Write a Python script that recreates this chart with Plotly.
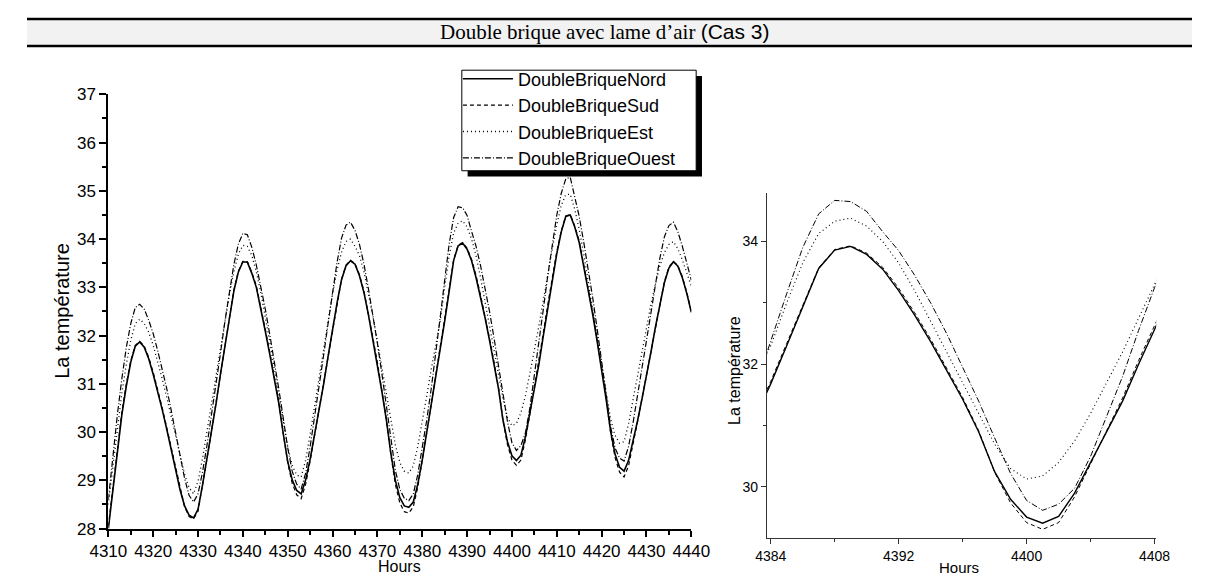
import plotly.graph_objects as go

# ---------------- data (hourly temperatures) ----------------
hours = list(range(4310, 4441))

nord = [
    28.00, 28.80, 29.60, 30.35, 30.95, 31.45, 31.78, 31.87, 31.76, 31.52,
    31.20, 30.85, 30.47, 30.07, 29.65, 29.22, 28.80, 28.47, 28.28, 28.22,
    28.40, 28.90, 29.45, 30.00, 30.58, 31.20, 31.80, 32.38, 32.93, 33.32,
    33.53, 33.52, 33.29, 33.00, 32.57, 32.09, 31.61, 31.13, 30.60, 29.97,
    29.39, 29.01, 28.79, 28.72, 29.01, 29.44, 29.95, 30.46, 30.99, 31.57,
    32.15, 32.68, 33.16, 33.45, 33.55, 33.48, 33.24, 32.89, 32.43, 31.91,
    31.40, 30.84, 30.25, 29.56, 29.00, 28.64, 28.47, 28.44, 28.55, 28.92,
    29.42, 29.98, 30.55, 31.12, 31.68, 32.30, 32.92, 33.56, 33.86, 33.92,
    33.79, 33.55, 33.20, 32.80, 32.37, 31.90, 31.43, 30.90, 30.25, 29.80,
    29.51, 29.41, 29.52, 29.90, 30.40, 30.90, 31.40, 32.00, 32.58, 33.15,
    33.70, 34.15, 34.47, 34.50, 34.25, 33.93, 33.45, 32.97, 32.44, 31.88,
    31.32, 30.68, 30.02, 29.54, 29.27, 29.19, 29.41, 29.80, 30.23, 30.69,
    31.16, 31.66, 32.18, 32.66, 33.10, 33.40, 33.53, 33.44, 33.20, 32.87,
    32.48]

sud = [
    28.05, 28.85, 29.65, 30.40, 31.00, 31.48, 31.80, 31.88, 31.78, 31.55,
    31.24, 30.89, 30.51, 30.10, 29.68, 29.24, 28.80, 28.45, 28.25, 28.20,
    28.36, 28.88, 29.45, 30.02, 30.61, 31.23, 31.83, 32.41, 32.95, 33.34,
    33.54, 33.53, 33.31, 33.03, 32.61, 32.13, 31.65, 31.17, 30.63, 29.98,
    29.36, 28.94, 28.70, 28.62, 28.92, 29.40, 29.94, 30.47, 31.01, 31.59,
    32.17, 32.70, 33.17, 33.46, 33.56, 33.49, 33.26, 32.92, 32.47, 31.95,
    31.44, 30.87, 30.26, 29.53, 28.92, 28.53, 28.35, 28.32, 28.45, 28.86,
    29.40, 29.99, 30.58, 31.16, 31.72, 32.34, 32.95, 33.57, 33.87, 33.93,
    33.81, 33.58, 33.24, 32.84, 32.41, 31.94, 31.46, 30.92, 30.24, 29.74,
    29.42, 29.31, 29.42, 29.84, 30.38, 30.92, 31.45, 32.06, 32.65, 33.20,
    33.74, 34.17, 34.48, 34.51, 34.27, 33.96, 33.49, 33.01, 32.48, 31.92,
    31.35, 30.69, 29.99, 29.47, 29.17, 29.07, 29.30, 29.74, 30.21, 30.70,
    31.18, 31.69, 32.21, 32.69, 33.12, 33.42, 33.54, 33.45, 33.22, 32.89,
    32.50]

est = [
    28.50, 29.30, 30.10, 30.80, 31.40, 31.90, 32.25, 32.34, 32.25, 32.07,
    31.80, 31.47, 31.11, 30.73, 30.33, 29.91, 29.50, 29.12, 28.85, 28.72,
    28.98, 29.45, 30.02, 30.58, 31.15, 31.75, 32.32, 32.86, 33.33, 33.69,
    33.87, 33.85, 33.66, 33.32, 32.89, 32.40, 31.87, 31.32, 30.76, 30.21,
    29.70, 29.31, 29.11, 29.07, 29.42, 29.96, 30.55, 31.14, 31.73, 32.32,
    32.87, 33.36, 33.73, 33.95, 34.00, 33.85, 33.66, 33.32, 32.88, 32.40,
    31.87, 31.33, 30.77, 30.22, 29.73, 29.37, 29.19, 29.15, 29.30, 29.70,
    30.20, 30.75, 31.30, 31.80, 32.30, 33.00, 33.65, 34.13, 34.33, 34.38,
    34.25, 34.00, 33.65, 33.20, 32.70, 32.20, 31.70, 31.20, 30.70, 30.30,
    30.13, 30.18, 30.40, 30.75, 31.20, 31.70, 32.20, 32.75, 33.30, 33.80,
    34.30, 34.70, 34.92, 34.93, 34.62, 34.20, 33.69, 33.12, 32.52, 31.93,
    31.33, 30.76, 30.27, 29.93, 29.77, 29.80, 30.17, 30.67, 31.18, 31.68,
    32.19, 32.65, 33.07, 33.45, 33.72, 33.89, 33.95, 33.80, 33.57, 33.30,
    33.02]

ouest = [
    28.60, 29.50, 30.35, 31.10, 31.75, 32.25, 32.58, 32.65, 32.55, 32.32,
    32.04, 31.69, 31.32, 30.91, 30.46, 30.01, 29.51, 29.04, 28.69, 28.55,
    28.72, 29.17, 29.73, 30.34, 30.96, 31.63, 32.30, 32.92, 33.48, 33.90,
    34.12, 34.09, 33.83, 33.46, 33.03, 32.55, 32.02, 31.49, 30.90, 30.29,
    29.67, 29.19, 28.92, 28.82, 29.15, 29.70, 30.31, 30.95, 31.59, 32.25,
    32.91, 33.52, 34.02, 34.29, 34.35, 34.18, 33.89, 33.48, 32.97, 32.42,
    31.84, 31.21, 30.54, 29.85, 29.21, 28.81, 28.63, 28.58, 28.72, 29.12,
    29.65, 30.25, 30.90, 31.60, 32.38, 33.15, 33.90, 34.45, 34.67, 34.65,
    34.49, 34.16, 33.85, 33.45, 33.00, 32.50, 31.95, 31.40, 30.80, 30.22,
    29.78, 29.62, 29.72, 29.98, 30.50, 31.15, 31.80, 32.55, 33.25, 33.90,
    34.50, 34.95, 35.25, 35.28, 34.89, 34.47, 33.94, 33.38, 32.79, 32.14,
    31.47, 30.76, 30.11, 29.67, 29.46, 29.40, 29.70, 30.19, 30.74, 31.31,
    31.88, 32.47, 33.06, 33.61, 34.05, 34.28, 34.35, 34.15, 33.85, 33.50,
    33.15]

series_names = ["DoubleBriqueNord", "DoubleBriqueSud", "DoubleBriqueEst", "DoubleBriqueOuest"]
series_values = [nord, sud, est, ouest]

title_main = "Double brique avec lame d\u2019air "
title_case = "(Cas 3)"
y_title = "La temp\u00e9rature"
x_title = "Hours"

# ---------------- styles ----------------
W, H = 1203, 577          # page body has an 8px margin
OFF = 8


def fx(px):               # page x pixel -> paper fraction
    return (px - OFF) / W


def fy(py):               # page y pixel -> paper fraction
    return 1 - (py - OFF) / H


dashes = ["solid", "4px,3px", "1px,3px", "6px,2px,1px,2px"]
widths = [1.6, 1.2, 1.3, 1.2]
SANS = "Liberation Sans, Arial, sans-serif"
NARROW = "Liberation Sans Narrow, Arial Narrow, Liberation Sans, sans-serif"

# legend frame (box + drop shadow) in page pixels
BOX_L, BOX_T, BOX_R, BOX_B = 457, 63, 699, 167
SHADOW = 6
LEG_FONT = 18

fig = go.Figure()
for name, vals, d, w in zip(series_names, series_values, dashes, widths):
    fig.add_trace(go.Scatter(x=hours, y=vals, mode="lines", name=name,
                             line=dict(color="black", width=w, dash=d),
                             xaxis="x", yaxis="y"))
for name, vals, d, w in zip(series_names, series_values, dashes, widths):
    fig.add_trace(go.Scatter(x=hours, y=vals, mode="lines", name=name, showlegend=False,
                             line=dict(color="black", width=max(w - 0.2, 1.0), dash=d),
                             xaxis="x2", yaxis="y2"))

axis_common = dict(showgrid=False, zeroline=False, showline=True, ticks="outside",
                   color="black", mirror=False)

fig.update_layout(
    width=W, height=H, autosize=False,
    margin=dict(l=0, r=0, t=0, b=0),
    paper_bgcolor="white", plot_bgcolor="white",
    showlegend=True,
    xaxis=dict(**axis_common, domain=[fx(92), fx(694)], range=[4310, 4440],
               tick0=4310, dtick=10, ticklen=6, tickwidth=1.5, linewidth=2,
               linecolor="black", tickcolor="black",
               tickfont=dict(family=SANS, size=17, color="black"),
               minor=dict(dtick=5, ticks="outside", ticklen=4, tickwidth=1.5, tickcolor="black"),
               anchor="y"),
    yaxis=dict(**axis_common, domain=[fy(537), fy(88)], range=[28, 37],
               tick0=28, dtick=1, ticklen=7, tickwidth=1.5, linewidth=2,
               linecolor="black", tickcolor="black",
               tickfont=dict(family=SANS, size=17, color="black"),
               minor=dict(dtick=0.5, ticks="outside", ticklen=4, tickwidth=1.5, tickcolor="black"),
               anchor="x"),
    xaxis2=dict(**axis_common, domain=[fx(772), fx(1174)], range=[4383.76, 4408.1],
                tick0=4384, dtick=8, ticklen=5, tickwidth=1, linewidth=1,
                linecolor="#333333", tickcolor="#333333",
                tickfont=dict(family=NARROW, size=14, color="black"),
                minor=dict(dtick=4, ticks="outside", ticklen=3, tickwidth=1, tickcolor="#333333"),
                anchor="y2"),
    yaxis2=dict(**axis_common, domain=[fy(547), fy(190)], range=[29.165, 34.79],
                tick0=30, dtick=2, ticklen=5, tickwidth=1, linewidth=1,
                linecolor="#333333", tickcolor="#333333",
                tickfont=dict(family=NARROW, size=14, color="black"),
                minor=dict(dtick=1, ticks="outside", ticklen=3, tickwidth=1, tickcolor="#333333"),
                anchor="x2"),
    legend=dict(x=fx(BOX_L - 4), y=fy(BOX_T - 10), xanchor="left", yanchor="top",
                bgcolor="rgba(0,0,0,0)", borderwidth=0,
                font=dict(family=SANS, size=LEG_FONT, color="black"),
                tracegroupgap=0, itemwidth=50),
)

# title band
fig.add_shape(type="rect", xref="paper", yref="paper", x0=0, x1=1, y0=fy(38), y1=fy(10),
              fillcolor="#f2f2f2", line=dict(width=0), layer="below")
fig.add_shape(type="line", xref="paper", yref="paper", x0=0, x1=1, y0=fy(10), y1=fy(10),
              line=dict(color="black", width=2.5))
fig.add_shape(type="line", xref="paper", yref="paper", x0=0, x1=1, y0=fy(38), y1=fy(38),
              line=dict(color="black", width=2.5))
# legend drop shadow and framed box (the legend entries sit on top)
fig.add_shape(type="rect", xref="paper", yref="paper",
              x0=fx(BOX_L + SHADOW), x1=fx(BOX_R + SHADOW),
              y0=fy(BOX_B + SHADOW), y1=fy(BOX_T + SHADOW),
              fillcolor="black", line=dict(width=0), layer="above")
fig.add_shape(type="rect", xref="paper", yref="paper",
              x0=fx(BOX_L), x1=fx(BOX_R), y0=fy(BOX_B), y1=fy(BOX_T),
              fillcolor="white", line=dict(color="black", width=1), layer="above")

fig.add_annotation(xref="paper", yref="paper", x=fx(605), y=fy(23), showarrow=False,
                   xanchor="center", yanchor="middle",
                   text=title_main + "<span style='font-family:Liberation Sans'>" + title_case + "</span>",
                   font=dict(family="Liberation Serif, Times New Roman, serif", size=21, color="black"))

# axis titles
fig.add_annotation(xref="paper", yref="paper", x=fx(44), y=fy(312), showarrow=False,
                   textangle=-90, xanchor="center", yanchor="middle", text=y_title,
                   font=dict(family=SANS, size=20, color="black"))
fig.add_annotation(xref="paper", yref="paper", x=fx(393), y=fy(576), showarrow=False,
                   xanchor="center", yanchor="middle", text=x_title,
                   font=dict(family=SANS, size=16, color="black"))
fig.add_annotation(xref="paper", yref="paper", x=fx(739), y=fy(373), showarrow=False,
                   textangle=-90, xanchor="center", yanchor="middle", text=y_title,
                   font=dict(family=SANS, size=16, color="black"))
fig.add_annotation(xref="paper", yref="paper", x=fx(970), y=fy(577), showarrow=False,
                   xanchor="center", yanchor="middle", text=x_title,
                   font=dict(family=SANS, size=15, color="black"))

fig.write_html("out.html")
